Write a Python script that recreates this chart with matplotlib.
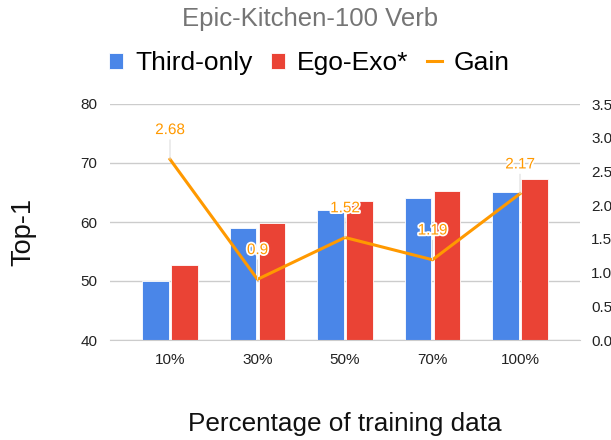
import matplotlib
matplotlib.use("Agg")
import matplotlib.pyplot as plt
import matplotlib.patheffects as pe
import numpy as np

categories = ["10%", "30%", "50%", "70%", "100%"]
third_only = [50.0, 58.9, 62.0, 64.1, 65.1]
ego_exo = [52.7, 59.8, 63.5, 65.2, 67.3]
gain = [2.68, 0.9, 1.52, 1.19, 2.17]
gain_labels = ["2.68", "0.9", "1.52", "1.19", "2.17"]
left_ticks = [40, 50, 60, 70, 80]
right_ticks = [0.0, 0.5, 1.0, 1.5, 2.0, 2.5, 3.0, 3.5]

BLUE = "#4A86E8"
RED = "#EA4335"
ORANGE = "#FF9900"
FONT = ["Liberation Sans", "DejaVu Sans"]
plt.rcParams["font.family"] = FONT

W, H = 611, 440
fig = plt.figure(figsize=(W/100, H/100), dpi=100)
ax = fig.add_axes([110/W, 1-340/H, (580-110)/W, (340-104)/H])
ax2 = ax.twinx()

x = np.arange(len(categories))
w = 0.3
ax.bar(x - 0.165, third_only, width=w, color=BLUE, edgecolor="white", linewidth=0.6, zorder=2, label="Third-only")
ax.bar(x + 0.165, ego_exo, width=w, color=RED, edgecolor="white", linewidth=0.6, zorder=2, label="Ego-Exo*")
ax.set_ylim(40, 80)
ax.set_yticks(left_ticks)
ax.set_xlim(-60/87.5, 4 + 60/87.5)
ax.set_xticks(x)
ax.set_xticklabels(categories)
ax.tick_params(axis="both", length=0, pad=9, labelsize=11, labelcolor="#222222")
ax.grid(axis="y", color="#cccccc", linewidth=1, zorder=0)
ax.set_axisbelow(True)
for s in ["top", "right", "left"]:
    ax.spines[s].set_visible(False)
ax.spines["bottom"].set_color("#cccccc")

fig.text(23.5/W, 1-231.5/H, "Top-1", rotation=90, ha="center", va="center", fontsize=19.5, color="#111111")
fig.text(345/W, 1-430.5/H, "Percentage of training data", ha="center", va="baseline", fontsize=18.8, color="#111111")

ax2.plot(x, gain, color=ORANGE, linewidth=2.2, zorder=3, label="Gain")
ax2.set_ylim(0, 3.5)
ax2.set_yticks(right_ticks)
ax2.set_yticklabels([f"{t:.1f}" for t in right_ticks])
ax2.tick_params(axis="y", length=0, pad=8, labelsize=11, labelcolor="#222222")
for s in ["top", "right", "left", "bottom"]:
    ax2.spines[s].set_visible(False)

for xi, g, lab in zip(x, gain, gain_labels):
    ax2.annotate(lab, (xi, g), xytext=(0, 16), textcoords="offset points",
                 ha="center", va="bottom", fontsize=11, color=ORANGE,
                 arrowprops=dict(arrowstyle="-", color="#dddddd", lw=0.8, shrinkA=0, shrinkB=0),
                 path_effects=[pe.withStroke(linewidth=2.5, foreground="white")], zorder=5)

fig.text(310/W, 1-26/H, "Epic-Kitchen-100 Verb", ha="center", va="baseline", fontsize=18.5, color="#757575")

h1, l1 = ax.get_legend_handles_labels()
h2, l2 = ax2.get_legend_handles_labels()
fig.legend(h1 + h2, l1 + l2, loc="center", bbox_to_anchor=(309/W, 1 - 63/H), ncol=3,
           frameon=False, fontsize=19, handlelength=0.55, handleheight=0.55,
           handletextpad=0.45, columnspacing=0.7)

fig.savefig("out.png", dpi=100)
